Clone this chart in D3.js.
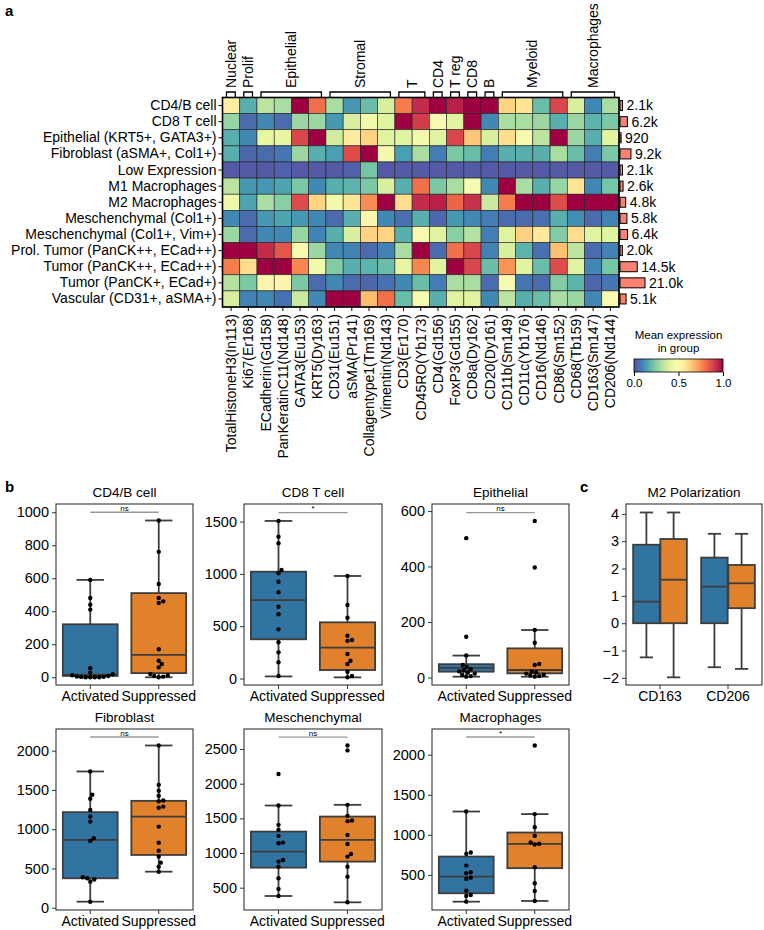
<!DOCTYPE html>
<html>
<head>
<meta charset="utf-8">
<script src="https://cdn.jsdelivr.net/npm/d3@7"></script>
<style>
body { margin: 0; background: #fff; }
svg text { font-family: "Liberation Sans", Arial, sans-serif; fill: #000; }
</style>
</head>
<body>
<svg id="fig" width="764" height="930"></svg>
<script>
// ---------- panel a data ----------
var rowNames = ["CD4/B cell", "CD8 T cell", "Epithelial (KRT5+, GATA3+)", "Fibroblast (aSMA+, Col1+)",
  "Low Expression", "M1 Macrophages", "M2 Macrophages", "Meschenchymal (Col1+)",
  "Meschenchymal (Col1+, Vim+)", "Prol. Tumor (PanCK++, ECad++)", "Tumor (PanCK++, ECad++)",
  "Tumor (PanCK+, ECad+)", "Vascular (CD31+, aSMA+)"];
var markerNames = ["TotalHistoneH3(In113)", "Ki67(Er168)", "ECadherin(Gd158)", "PanKeratinC11(Nd148)",
  "GATA3(Eu153)", "KRT5(Dy163)", "CD31(Eu151)", "aSMA(Pr141)", "Collagentype1(Tm169)", "Vimentin(Nd143)",
  "CD3(Er170)", "CD45RO(Yb173)", "CD4(Gd156)", "FoxP3(Gd155)", "CD8a(Dy162)", "CD20(Dy161)",
  "CD11b(Sm149)", "CD11c(Yb176)", "CD16(Nd146)", "CD86(Sm152)", "CD68(Tb159)", "CD163(Sm147)", "CD206(Nd144)"];
var groupNames = ["Nuclear", "Prolif", "Epithelial", "Stromal", "T", "CD4", "T reg", "CD8", "B", "Myeloid", "Macrophages"];
var groupFirst = [0, 1, 2, 6, 10, 12, 13, 14, 15, 16, 20];
var groupLast  = [0, 1, 5, 9, 11, 12, 13, 14, 15, 19, 22];
var cellCounts = [2100, 6200, 920, 9200, 2100, 2600, 4800, 5800, 6400, 2000, 14500, 21000, 5100];
var countLabels = ["2.1k", "6.2k", "920", "9.2k", "2.1k", "2.6k", "4.8k", "5.8k", "6.4k", "2.0k", "14.5k", "21.0k", "5.1k"];
var meanExpr = [
  [0.55,0.17,0.33,0.30,1.00,0.80,0.30,0.13,0.20,0.38,0.78,0.93,1.00,0.95,1.00,1.00,0.62,0.58,0.20,0.88,0.38,0.10,0.30],
  [0.27,0.05,0.10,0.05,0.28,0.28,0.13,0.38,0.45,0.40,1.00,0.90,0.48,0.40,1.00,0.10,0.30,0.30,0.28,0.17,0.28,0.18,0.23],
  [0.17,0.10,0.42,0.42,0.88,1.00,0.37,0.56,0.62,0.40,0.40,0.46,0.40,0.88,0.65,0.38,0.60,0.47,0.33,1.00,0.28,0.17,0.40],
  [0.17,0.04,0.05,0.07,0.28,0.17,0.14,0.87,1.00,0.46,0.14,0.30,0.08,0.23,0.20,0.08,0.17,0.17,0.17,0.30,0.20,0.08,0.23],
  [0.02,0.02,0.02,0.03,0.02,0.02,0.02,0.03,0.22,0.02,0.02,0.02,0.02,0.02,0.02,0.02,0.02,0.02,0.02,0.02,0.02,0.02,0.02],
  [0.33,0.13,0.13,0.15,0.23,0.10,0.17,0.18,0.23,0.38,0.17,0.80,0.23,0.30,0.47,0.10,1.00,0.30,0.17,0.27,0.58,0.10,0.22],
  [0.44,0.15,0.30,0.25,0.87,0.62,0.45,0.58,0.75,1.00,0.60,0.93,0.95,0.82,0.92,0.35,0.78,1.00,1.00,0.87,1.00,1.00,1.00],
  [0.10,0.05,0.13,0.15,0.13,0.10,0.05,0.17,0.52,0.10,0.06,0.17,0.04,0.13,0.10,0.08,0.05,0.05,0.06,0.17,0.11,0.05,0.09],
  [0.28,0.05,0.10,0.10,0.27,0.09,0.17,0.38,0.62,0.62,0.17,0.48,0.40,0.25,0.32,0.08,0.40,0.63,0.57,0.24,0.60,0.40,0.40],
  [1.00,1.00,0.93,0.85,0.48,0.28,0.10,0.09,0.05,0.09,0.30,1.00,0.05,0.80,0.88,0.09,0.38,0.18,0.06,0.66,0.33,0.05,0.09],
  [0.78,0.60,1.00,1.00,0.76,0.45,0.24,0.17,0.18,0.20,0.42,0.76,0.40,1.00,0.88,0.20,0.74,0.40,0.20,0.87,0.40,0.10,0.22],
  [0.32,0.23,0.52,0.52,0.23,0.05,0.10,0.05,0.04,0.06,0.10,0.20,0.08,0.30,0.30,0.05,0.48,0.07,0.05,0.24,0.18,0.04,0.07],
  [0.38,0.09,0.10,0.06,0.35,0.10,1.00,1.00,0.67,0.80,0.20,0.47,0.17,0.40,0.40,0.10,0.33,0.17,0.20,0.30,0.28,0.10,0.48]
];
var colorTicks = [0, 0.5, 1];

// ---------- panel b data ----------
var conditions = ["Activated", "Suppressed"];
var boxTitles = ["CD4/B cell", "CD8 T cell", "Epithelial", "Fibroblast", "Meschenchymal", "Macrophages"];
var boxTicks = [[0,200,400,600,800,1000], [0,500,1000,1500], [0,200,400,600],
  [0,500,1000,1500,2000], [500,1000,1500,2000,2500], [500,1000,1500,2000]];
var boxDomains = [[-47,1050], [-62,1668], [-27,625], [-29,2276], [178,2789], [62,2321]];
// [low whisker, q1, median, q3, high whisker] for Activated, Suppressed
var boxStats = [
  [[0,8,16,321,590], [0,25,135,510,950]],
  [[20,375,750,1021,1506], [11,81,295,537,980]],
  [[3,21,35,48,79], [3,15,27,105,171]],
  [[77,375,864,1217,1735], [459,672,1161,1361,2066]],
  [[380,789,1020,1309,1685], [289,876,1189,1526,1695]],
  [[166,271,479,729,1291], [175,584,888,1029,1259]]
];
var boxPoints = [
  [[590,480,440,410,55,28,18,12,8,5,3,2,0,0,0,0],
   [950,760,565,480,460,450,170,100,80,60,20,12,8,4,0]],
  [[1506,1356,1293,1037,1006,925,824,686,614,470,346,250,155,24],
   [980,703,581,409,368,360,234,170,139,65,24,11]],
  [[502,147,79,45,38,30,26,22,18,14,10,5,3],
   [564,396,171,125,49,45,22,18,14,10,7,5,3]],
  [[1735,1438,1387,1246,1161,1097,885,851,388,375,360,332,77],
   [2066,1565,1489,1425,1365,1355,1288,1273,1033,829,727,651,574,523,459]],
  [[2139,1685,1406,1334,1247,1150,1140,900,876,803,636,481,380],
   [2552,2480,1695,1536,1468,1460,1260,1131,987,948,803,659,289]],
  [[1291,779,763,616,534,521,466,450,304,250,238,166],
   [2116,1259,1096,988,904,888,880,596,396,300,175]]
];
var sigValues = [1000, 1585, 594, 2174, 2673, 2221];
var sigLabels = ["ns", "*", "ns", "ns", "ns", "*"];

// ---------- panel c data ----------
var m2Markers = ["CD163", "CD206"];
var m2Ticks = [-2, -1, 0, 1, 2, 3, 4];
var m2Stats = [
  [[-1.25,0,0.79,2.87,4.05], [-1.98,0,1.59,3.08,4.05]],
  [[-1.61,0,1.34,2.40,3.27], [-1.67,0.55,1.46,2.13,3.27]]
];

var svg = d3.select("#fig");
var spectral = function(t) { return d3.interpolateSpectral(1 - t); };
var hueColors = ["#3274a1", "#e1812c"];
var edgeColor = "#3d3d3d";

// ================= panel a : heatmap =================
var hm = {left: 222.5, right: 619, top: 97.5, bottom: 307};
var xCol = d3.scaleBand().domain(d3.range(markerNames.length)).range([hm.left, hm.right]);
var yRow = d3.scaleBand().domain(d3.range(rowNames.length)).range([hm.top, hm.bottom]);

var cells = [];
meanExpr.forEach(function(row, i) {
  row.forEach(function(v, j) { cells.push({r: i, c: j, v: v}); });
});
svg.append("g").selectAll("rect").data(cells).enter().append("rect")
  .attr("x", function(d) { return xCol(d.c); })
  .attr("y", function(d) { return yRow(d.r); })
  .attr("width", xCol.bandwidth())
  .attr("height", yRow.bandwidth())
  .attr("fill", function(d) { return spectral(d.v); })
  .attr("stroke", "#222")
  .attr("stroke-width", 0.6);
svg.append("rect")
  .attr("x", hm.left).attr("y", hm.top)
  .attr("width", hm.right - hm.left).attr("height", hm.bottom - hm.top)
  .attr("fill", "none").attr("stroke", "#000").attr("stroke-width", 1.6);

// row labels
var rowAxis = svg.append("g")
  .attr("transform", "translate(" + hm.left + ",0)")
  .call(d3.axisLeft(yRow).tickSize(4).tickPadding(2).tickFormat(function(i) { return rowNames[i]; }));
rowAxis.select(".domain").remove();
rowAxis.selectAll("text").style("font-size", "14px").attr("fill", "#000");

// column labels
var colAxis = svg.append("g")
  .attr("transform", "translate(0," + hm.bottom + ")")
  .call(d3.axisBottom(xCol).tickSize(4).tickFormat(function(j) { return markerNames[j]; }));
colAxis.select(".domain").remove();
colAxis.selectAll("text")
  .style("font-size", "14px").attr("fill", "#000")
  .attr("transform", "rotate(-90)")
  .attr("text-anchor", "end")
  .attr("x", -7).attr("y", 0).attr("dy", "0.35em");

// group brackets
var gBr = svg.append("g");
groupNames.forEach(function(name, k) {
  var x1 = xCol(groupFirst[k]) + 4;
  var x2 = xCol(groupLast[k]) + xCol.bandwidth() - 4.5;
  gBr.append("path")
    .attr("d", "M" + x1 + "," + (hm.top - 0.5) + "V92H" + x2 + "V" + (hm.top - 0.5))
    .attr("fill", "none").attr("stroke", "#000").attr("stroke-width", 1.3);
  gBr.append("text")
    .attr("transform", "translate(" + ((x1 + x2) / 2) + ",88) rotate(-90)")
    .attr("dy", "0.35em")
    .style("font-size", "14px")
    .text(name);
});

// cell count bars
var xCount = d3.scaleLinear().domain([0, 21000]).range([620, 645]);
var barG = svg.append("g");
barG.selectAll("rect").data(cellCounts).enter().append("rect")
  .attr("x", xCount(0))
  .attr("y", function(d, i) { return yRow(i) + (yRow.bandwidth() - 10) / 2; })
  .attr("width", function(d) { return xCount(d) - xCount(0); })
  .attr("height", 10)
  .attr("fill", "#fa8072").attr("stroke", "#000").attr("stroke-width", 1);
barG.selectAll("text").data(cellCounts).enter().append("text")
  .attr("x", function(d) { return xCount(d) + 4; })
  .attr("y", function(d, i) { return yRow(i) + yRow.bandwidth() / 2; })
  .attr("dy", "0.35em")
  .style("font-size", "14px")
  .text(function(d, i) { return countLabels[i]; });

// colour bar
var cb = {x0: 634, x1: 723, y: 359, h: 13};
var grad = svg.append("defs").append("linearGradient").attr("id", "cbGrad");
d3.range(0, 1.001, 0.05).forEach(function(t) {
  grad.append("stop").attr("offset", (t * 100) + "%").attr("stop-color", spectral(t));
});
svg.append("rect").attr("x", cb.x0).attr("y", cb.y).attr("width", cb.x1 - cb.x0).attr("height", cb.h)
  .attr("fill", "url(#cbGrad)").attr("stroke", "#000").attr("stroke-width", 0.8);
var cbScale = d3.scaleLinear().domain([0, 1]).range([cb.x0, cb.x1]);
var cbAxis = svg.append("g").attr("transform", "translate(0," + (cb.y + cb.h) + ")")
  .call(d3.axisBottom(cbScale).tickValues(colorTicks).tickSize(4).tickFormat(d3.format(".1f")));
cbAxis.select(".domain").remove();
cbAxis.selectAll("text").style("font-size", "11.5px").attr("fill", "#000");
svg.append("text").attr("x", (cb.x0 + cb.x1) / 2).attr("y", 339).attr("text-anchor", "middle")
  .style("font-size", "11.5px").text("Mean expression");
svg.append("text").attr("x", (cb.x0 + cb.x1) / 2).attr("y", 352).attr("text-anchor", "middle")
  .style("font-size", "11.5px").text("in group");

// ================= box plot helpers =================
function swarm(values, yScale, r) {
  var placed = [];
  values.slice().sort(d3.ascending).forEach(function(v) {
    var py = yScale(v), k = 0, off = 0;
    while (!placed.every(function(p) {
      var dx = p.dx - off, dy = p.y - py;
      return dx * dx + dy * dy >= 4 * r * r - 0.01;
    })) {
      k++;
      off = (k % 2 === 1 ? 1 : -1) * Math.ceil(k / 2) * 0.5;
    }
    placed.push({y: py, dx: off});
  });
  return placed;
}

function drawBox(g, cx, w, s, y, fill) {
  g.append("line").attr("x1", cx).attr("x2", cx).attr("y1", y(s[0])).attr("y2", y(s[1]))
    .attr("stroke", edgeColor).attr("stroke-width", 1.8);
  g.append("line").attr("x1", cx).attr("x2", cx).attr("y1", y(s[3])).attr("y2", y(s[4]))
    .attr("stroke", edgeColor).attr("stroke-width", 1.8);
  g.append("line").attr("x1", cx - w / 4).attr("x2", cx + w / 4).attr("y1", y(s[0])).attr("y2", y(s[0]))
    .attr("stroke", edgeColor).attr("stroke-width", 1.8);
  g.append("line").attr("x1", cx - w / 4).attr("x2", cx + w / 4).attr("y1", y(s[4])).attr("y2", y(s[4]))
    .attr("stroke", edgeColor).attr("stroke-width", 1.8);
  g.append("rect").attr("x", cx - w / 2).attr("y", y(s[3])).attr("width", w)
    .attr("height", Math.max(0.5, y(s[1]) - y(s[3])))
    .attr("fill", fill).attr("stroke", edgeColor).attr("stroke-width", 1.8);
  g.append("line").attr("x1", cx - w / 2).attr("x2", cx + w / 2).attr("y1", y(s[2])).attr("y2", y(s[2]))
    .attr("stroke", edgeColor).attr("stroke-width", 1.8);
}

function frameAxes(g, x0, x1, y0, y1, xBand, yScale, ticks, title) {
  var ya = g.append("g").attr("transform", "translate(" + x0 + ",0)")
    .call(d3.axisLeft(yScale).tickValues(ticks).tickSize(4).tickPadding(3).tickFormat(d3.format("d")));
  ya.select(".domain").remove();
  ya.selectAll("line").attr("stroke", "#333");
  ya.selectAll("text").style("font-size", "14.5px").attr("fill", "#222");
  var xa = g.append("g").attr("transform", "translate(0," + y1 + ")")
    .call(d3.axisBottom(xBand).tickSize(4).tickPadding(2));
  xa.select(".domain").remove();
  xa.selectAll("line").attr("stroke", "#333");
  xa.selectAll("text").style("font-size", "14px").attr("fill", "#222");
  g.append("rect").attr("x", x0).attr("y", y0).attr("width", x1 - x0).attr("height", y1 - y0)
    .attr("fill", "none").attr("stroke", "#333").attr("stroke-width", 1.1);
  g.append("text").attr("x", (x0 + x1) / 2).attr("y", y0 - 7).attr("text-anchor", "middle")
    .style("font-size", "13.5px").attr("fill", "#222").text(title);
}

// ================= panel b =================
var boxFrames = [
  [56, 193, 504, 685], [244, 382, 504, 685], [432, 569, 504, 685],
  [56, 193, 729, 910], [244, 382, 729, 910], [432, 569, 729, 910]
];
boxTitles.forEach(function(title, k) {
  var f = boxFrames[k];
  var g = svg.append("g");
  var xb = d3.scaleBand().domain(conditions).range([f[0], f[1]]);
  var y = d3.scaleLinear().domain(boxDomains[k]).range([f[3], f[2]]);
  var bw = xb.bandwidth() * 0.8;
  conditions.forEach(function(c, ci) {
    var cx = xb(c) + xb.bandwidth() / 2;
    drawBox(g, cx, bw, boxStats[k][ci], y, hueColors[ci]);
    var pts = swarm(boxPoints[k][ci], y, 2.2);
    g.selectAll(null).data(pts).enter().append("circle")
      .attr("cx", function(p) { return cx + p.dx; })
      .attr("cy", function(p) { return p.y; })
      .attr("r", 2.2).attr("fill", "#000");
  });
  var sx1 = xb(conditions[0]) + xb.bandwidth() / 2, sx2 = xb(conditions[1]) + xb.bandwidth() / 2;
  g.append("line").attr("x1", sx1).attr("x2", sx2)
    .attr("y1", y(sigValues[k])).attr("y2", y(sigValues[k]))
    .attr("stroke", "#999").attr("stroke-width", 1.3);
  g.append("text").attr("x", (sx1 + sx2) / 2).attr("y", y(sigValues[k]) - 1.5)
    .attr("text-anchor", "middle").style("font-size", "8px").attr("fill", "#333")
    .text(sigLabels[k]);
  frameAxes(g, f[0], f[1], f[2], f[3], xb, y, boxTicks[k], title);
});

// ================= panel c =================
(function() {
  var f = [626, 762, 504, 685];
  var g = svg.append("g");
  var xb = d3.scaleBand().domain(m2Markers).range([f[0], f[1]]);
  var y = d3.scaleLinear().domain([-2.26, 4.36]).range([f[3], f[2]]);
  var bw = xb.bandwidth() * 0.39;
  m2Markers.forEach(function(m, mi) {
    var center = xb(m) + xb.bandwidth() / 2;
    [-0.2, 0.2].forEach(function(o, hi) {
      drawBox(g, center + o * xb.bandwidth(), bw, m2Stats[mi][hi], y, hueColors[hi]);
    });
  });
  frameAxes(g, f[0], f[1], f[2], f[3], xb, y, m2Ticks, "M2 Polarization");
})();

// panel letters
[["a", 5, 16], ["b", 5, 492], ["c", 580, 492]].forEach(function(l) {
  svg.append("text").attr("x", l[1]).attr("y", l[2])
    .style("font-size", "15px").style("font-weight", "bold").text(l[0]);
});
</script>
</body>
</html>
